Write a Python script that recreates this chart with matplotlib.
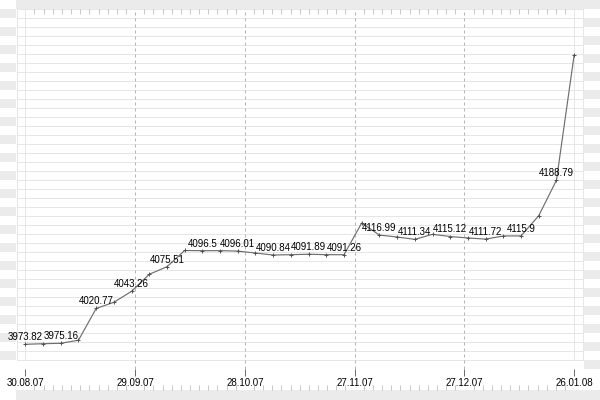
import matplotlib
matplotlib.use("Agg")
import matplotlib.pyplot as plt
import numpy as np
from matplotlib.patches import Rectangle

# index of each weekly point (equally spaced on the axis)
points = list(range(32))
values = [3973.82, 3974.6, 3975.16, 3979.1, 4020.77, 4028.9, 4043.26, 4065.6,
          4075.51, 4096.8, 4096.5, 4096.6, 4096.01, 4093.5, 4090.84, 4091.3,
          4091.89, 4091.3, 4091.26, 4132.8, 4116.99, 4114.5, 4111.34, 4118.0,
          4115.12, 4113.2, 4111.72, 4115.8, 4115.9, 4142.4, 4188.79, 4353.0]
tick_labels = ["30.08.07", "29.09.07", "28.10.07", "27.11.07", "27.12.07", "26.01.08"]

# pixel layout of the reference (600x400)
W, H = 600, 400
GRID_TOP, GRID_BOT = 9, 360
AX_L, AX_R, AX_B = 16.5, 583, 369
Y_LO, Y_HI = 3941.44, 4413.34        # value at bottom / top of the axes
GRID_LO, GRID_HI = 3953.24, 4413.34  # value of first / last horizontal line
BAND = "#ebebeb"
GRID = "#e6e6e6"
PX = 0.72  # one pixel in points

plt.rcParams['font.family'] = ['Liberation Sans', 'DejaVu Sans']

fig = plt.figure(figsize=(6, 4), dpi=100)

# background decoration (bands and side stripes)
bg = fig.add_axes([0, 0, 1, 1], zorder=0)
bg.set_xlim(0, W)
bg.set_ylim(H, 0)
bg.axis('off')
bg.add_patch(Rectangle((16, 0), W - 16, 9, color=BAND, lw=0))
bg.add_patch(Rectangle((16, 390), W - 16, 10, color=BAND, lw=0))
for y in range(GRID_TOP, GRID_BOT, 18):
    bg.add_patch(Rectangle((0, y), 16, 9, color=BAND, lw=0))
for y in range(GRID_TOP + 9, GRID_BOT + 9, 18):
    bg.add_patch(Rectangle((583.5, y), W - 583.5, 9, color=BAND, lw=0))

ax = fig.add_axes([AX_L / W, (H - AX_B) / H, (AX_R - AX_L) / W, (AX_B - GRID_TOP) / H],
                  zorder=1)
ax.patch.set_alpha(0)
ax.set_xlim(-0.5, 31.5)
ax.set_ylim(Y_LO, Y_HI)

# horizontal grid lines
for gy in np.linspace(GRID_LO, GRID_HI, 40):
    ax.axhline(gy, color=GRID, lw=PX, zorder=0)

major = np.linspace(0, 31, len(tick_labels))
for i, mx in enumerate(major):
    if i in (0, len(major) - 1):
        ax.plot([mx, mx], [GRID_LO, Y_HI], color=GRID, lw=PX, zorder=0)
    else:
        ax.axvline(mx, color="#b4b4b4", lw=PX, ls=(0, (3, 3)), zorder=0)

ax.plot(points, values, color="#6e6e6e", lw=0.85, marker='+', ms=3.5, mew=0.7,
        mec="#505050", zorder=3)
for i in range(0, len(values), 2):
    ax.annotate(f"{values[i]:g}", (points[i], values[i]), xytext=(0, 3),
                textcoords='offset points', ha='center', va='baseline',
                fontsize=7, color='black', zorder=4)

ax.set_xticks(major)
ax.set_xticklabels(tick_labels, fontsize=7)
minor = [m for m in np.linspace(0, 31, 61)
         if not np.any(np.isclose(m, major))]
ax.set_xticks(minor, minor=True)
ax.tick_params(axis='x', which='major', direction='out', length=5.2, width=PX,
               color="#707070", pad=1)
ax.tick_params(axis='x', which='minor', top=True, bottom=False, direction='in',
               length=3.5, width=PX, color="#c8c8c8")
ax.set_yticks([])
for s in ('top', 'bottom'):
    ax.spines[s].set_visible(False)
for s in ('left', 'right'):
    ax.spines[s].set_color(GRID)
    ax.spines[s].set_linewidth(PX)
    ax.spines[s].set_bounds(GRID_LO, Y_HI)

# small ticks sitting on the bottom band
ax2 = fig.add_axes([AX_L / W, (H - 390) / H, (AX_R - AX_L) / W, 21 / H], zorder=1)
ax2.patch.set_alpha(0)
ax2.set_xlim(-0.5, 31.5)
ax2.set_xticks([])
ax2.set_xticks(minor, minor=True)
ax2.set_yticks([])
for s in ax2.spines.values():
    s.set_visible(False)
ax2.tick_params(axis='x', which='minor', direction='in', length=3.5, width=PX,
                color="#c8c8c8")

fig.savefig("out.png", dpi=100)
